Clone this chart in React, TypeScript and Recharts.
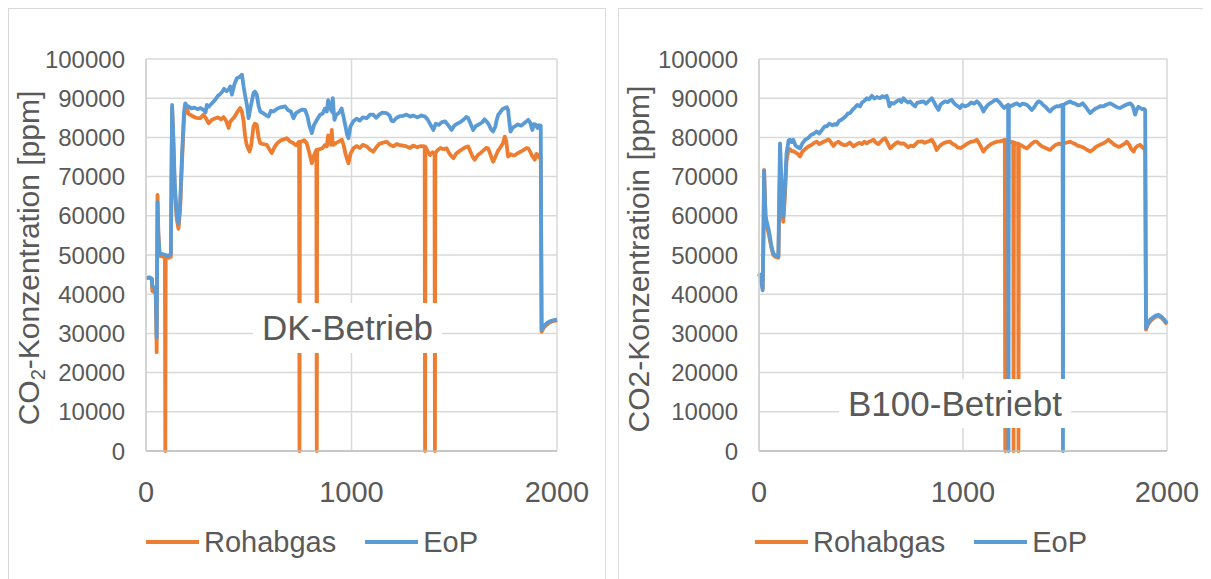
import React from 'react'
import { LineChart, Line, XAxis, YAxis, CartesianGrid } from 'recharts'

type Pt = [number, number]

const xTicks = [0, 1000, 2000]
const yTicks = [0, 10000, 20000, 30000, 40000, 50000, 60000, 70000, 80000, 90000, 100000]
const seriesNames = ['Rohabgas', 'EoP']
const seriesColors = ['#ED7D31', '#5B9BD5']

// DK-Betrieb, Rohabgas [x, ppm]
const dkRohabgas: Pt[] = [
  [0, 44000], [15, 44200], [28, 43900], [31, 40800], [40, 40500], [47, 40500], [52, 25200], [56, 65300], [60, 56000],
  [66, 49800], [80, 49600], [92, 49500], [94, 0], [96, 49500], [110, 49300], [121, 49500], [127, 87500], [133, 79000],
  [140, 66500], [150, 59000], [158, 56700], [166, 61500], [175, 73500], [185, 85000], [191, 87500], [199, 87500],
  [207, 86000], [215, 85800], [230, 85300], [245, 85000], [264, 84900], [280, 85800], [290, 85000], [305, 83600],
  [321, 84500], [335, 84800], [350, 85100], [365, 84600], [377, 85200], [390, 84200], [402, 82400], [410, 84000],
  [418, 84500], [430, 85200], [445, 86500], [458, 87500], [467, 86500], [475, 84100], [482, 80500], [488, 78500],
  [496, 77300], [504, 76400], [512, 78000], [523, 82800], [530, 83500], [539, 83200], [548, 80000], [556, 78500],
  [570, 78300], [588, 78100], [600, 77000], [612, 76000], [625, 77500], [640, 78600], [655, 79200], [670, 79500],
  [685, 79800], [700, 79000], [718, 78500], [730, 78000], [745, 78900], [747, 0], [749, 78800], [760, 79000],
  [770, 79300], [782, 78500], [795, 76000], [807, 73400], [818, 75500], [829, 76800], [831, 0], [833, 76800],
  [845, 77000], [860, 77300], [870, 78000], [880, 77700], [886, 80500], [893, 78800], [900, 78100], [904, 81900],
  [908, 78500], [912, 78100], [925, 78600], [940, 79000], [953, 79400], [962, 78000], [970, 76000], [978, 74500],
  [985, 73400], [995, 75800], [1009, 77200], [1025, 77800], [1040, 77300], [1055, 78100], [1074, 77700], [1090, 76900],
  [1106, 76400], [1120, 77400], [1135, 78300], [1150, 78600], [1171, 78900], [1185, 78200], [1204, 77700], [1220, 78300],
  [1235, 78000], [1250, 77900], [1268, 77700], [1285, 77300], [1300, 77900], [1320, 77500], [1340, 77800], [1356, 77700],
  [1358, 0], [1360, 77600], [1370, 76500], [1382, 75500], [1394, 76200], [1404, 76000], [1406, 0], [1408, 76000],
  [1420, 76800], [1433, 77300], [1448, 77000], [1463, 77200], [1475, 76000], [1486, 75200], [1496, 74700], [1510, 75900],
  [1525, 76500], [1540, 77000], [1555, 77500], [1568, 77700], [1580, 76200], [1590, 75000], [1600, 74300], [1615, 75500],
  [1630, 76100], [1645, 76800], [1655, 77300], [1665, 77200], [1675, 75800], [1689, 73800], [1700, 75000], [1712, 76500],
  [1725, 77500], [1737, 78500], [1746, 80200], [1753, 79000], [1762, 75100], [1775, 75700], [1785, 75400], [1795, 75500],
  [1810, 76000], [1825, 76400], [1840, 76900], [1852, 77300], [1860, 77200], [1870, 76300], [1880, 75200], [1892, 74300],
  [1900, 75800], [1908, 75500], [1915, 74800], [1921, 75200], [1925, 30400], [1935, 31400], [1950, 32200], [1965, 32800],
  [1980, 33100], [2000, 33300],
]

// DK-Betrieb, EoP
const dkEoP: Pt[] = [
  [0, 44100], [15, 44300], [28, 44000], [31, 42000], [40, 41800], [47, 41500], [52, 29000], [56, 63500], [60, 55000],
  [66, 50500], [80, 50200], [95, 50000], [110, 49800], [121, 50300], [127, 88300], [133, 80000], [140, 68000],
  [150, 60000], [158, 58000], [166, 63000], [175, 75000], [185, 86500], [191, 88700], [200, 88000], [207, 87900],
  [220, 87400], [235, 87600], [250, 87200], [265, 87500], [280, 87000], [290, 86400], [296, 88300], [305, 87800],
  [321, 88700], [335, 89500], [350, 90600], [360, 91000], [369, 91500], [380, 92400], [392, 91800], [402, 92200],
  [410, 93000], [418, 90900], [430, 93500], [442, 95100], [455, 95400], [467, 96000], [475, 93000], [483, 90500],
  [492, 88000], [499, 84900], [510, 88000], [523, 91300], [530, 91700], [539, 90900], [548, 88000], [556, 86600],
  [570, 86200], [583, 85700], [596, 85300], [608, 86800], [620, 86600], [635, 87200], [650, 87600], [665, 87800],
  [677, 87900], [690, 87000], [705, 86600], [718, 84900], [730, 86200], [745, 86700], [760, 87100], [774, 87000],
  [785, 85500], [795, 83000], [807, 81100], [818, 83200], [832, 84500], [847, 85800], [860, 86100], [870, 87300],
  [880, 86600], [886, 89500], [893, 88700], [900, 87000], [906, 86500], [909, 90000], [913, 87000], [917, 84500],
  [925, 85700], [935, 86100], [944, 86600], [952, 87400], [961, 85300], [970, 83000], [978, 80800], [985, 79800],
  [995, 82800], [1009, 84100], [1025, 84800], [1040, 84300], [1055, 85100], [1074, 84900], [1090, 85800], [1106, 85800],
  [1120, 85000], [1135, 85800], [1150, 86300], [1171, 86200], [1185, 85600], [1195, 84200], [1204, 84100], [1220, 85000],
  [1235, 85400], [1250, 85500], [1268, 85800], [1285, 85300], [1300, 85600], [1320, 85100], [1340, 85600], [1358, 85300],
  [1370, 84600], [1385, 83200], [1398, 81900], [1410, 83500], [1425, 83200], [1440, 83900], [1455, 84100], [1465, 83500],
  [1475, 82800], [1487, 81900], [1500, 83000], [1515, 83500], [1530, 83900], [1545, 84500], [1558, 85200], [1568, 84900],
  [1580, 83400], [1592, 81900], [1605, 82900], [1620, 83300], [1635, 83800], [1647, 84600], [1657, 84100], [1668, 83300],
  [1680, 82000], [1689, 81500], [1700, 82800], [1707, 84500], [1714, 85800], [1725, 86500], [1735, 87200], [1746, 87500],
  [1756, 87700], [1762, 87000], [1768, 84000], [1774, 81500], [1785, 82500], [1795, 82800], [1810, 83300], [1825, 83000],
  [1840, 83600], [1852, 84100], [1860, 84500], [1870, 83700], [1880, 81900], [1888, 83400], [1897, 83200], [1905, 82400],
  [1913, 83100], [1921, 83000], [1925, 30900], [1935, 31800], [1950, 32600], [1965, 33100], [1980, 33300], [2000, 33500],
]

// B100-Betrieb, Rohabgas
const b100Rohabgas: Pt[] = [
  [0, 45000], [8, 44000], [18, 41500], [22, 56000], [25, 71700], [28, 66500], [32, 59500], [38, 57500], [45, 56000],
  [51, 54500], [60, 52000], [70, 50000], [82, 49500], [95, 49300], [99, 60000], [103, 72000], [108, 68000], [113, 61000],
  [119, 58500], [126, 64000], [135, 74000], [145, 77000], [152, 77000], [160, 76500], [168, 76500], [178, 76200],
  [190, 75800], [201, 75100], [212, 76300], [226, 77000], [240, 77600], [255, 78000], [270, 78600], [283, 78900],
  [295, 78300], [310, 78700], [322, 79000], [340, 79500], [352, 78800], [365, 77800], [378, 78600], [390, 78900],
  [402, 78400], [418, 78000], [430, 78100], [445, 78700], [463, 77700], [478, 78200], [492, 78600], [505, 78300],
  [516, 78900], [528, 78500], [540, 78900], [550, 79100], [561, 79400], [572, 78700], [585, 78300], [598, 79000],
  [608, 79500], [618, 79800], [630, 78600], [643, 77200], [655, 77800], [668, 78400], [680, 78800], [694, 78400],
  [708, 78500], [720, 78000], [732, 77500], [745, 77900], [757, 77700], [770, 78400], [780, 78900], [790, 78900],
  [800, 79000], [812, 78600], [825, 78900], [837, 79100], [847, 79400], [858, 78500], [871, 76800], [882, 77600],
  [895, 78200], [908, 78600], [920, 78800], [937, 78900], [950, 78300], [962, 78000], [975, 77400], [988, 77300],
  [1002, 77700], [1015, 78200], [1028, 78600], [1040, 78900], [1053, 79000], [1068, 79400], [1080, 78400], [1090, 77400],
  [1100, 76400], [1112, 77200], [1125, 77800], [1138, 78300], [1150, 78600], [1166, 78900], [1180, 79000], [1195, 79200],
  [1205, 79400], [1207, 0], [1209, 79300], [1220, 78600], [1232, 78900], [1246, 78800], [1248, 0], [1250, 78700],
  [1260, 78500], [1270, 78400], [1272, 0], [1274, 78300], [1288, 77900], [1300, 77500], [1313, 77200], [1325, 77800],
  [1337, 78400], [1350, 78900], [1362, 78900], [1375, 78200], [1390, 77600], [1405, 77300], [1418, 77000], [1427, 76800],
  [1440, 77500], [1455, 78100], [1470, 78400], [1485, 78200], [1497, 78500], [1510, 78700], [1525, 78900], [1537, 78600],
  [1550, 78300], [1562, 77900], [1575, 77700], [1588, 77500], [1600, 77100], [1612, 76700], [1624, 76400], [1638, 76900],
  [1650, 77500], [1663, 77900], [1675, 78200], [1689, 78500], [1700, 78900], [1713, 79400], [1725, 78900], [1738, 78300],
  [1750, 77900], [1762, 77600], [1771, 77700], [1783, 78100], [1795, 78500], [1803, 78900], [1815, 78100], [1825, 77000],
  [1836, 76400], [1845, 77300], [1855, 77800], [1869, 78100], [1877, 77600], [1885, 77200], [1893, 77500], [1897, 31000],
  [1908, 32400], [1920, 33200], [1935, 33900], [1947, 34300], [1959, 34400], [1972, 34000], [1985, 33300], [2000, 32300],
]

// B100-Betrieb, EoP
const b100EoP: Pt[] = [
  [0, 45300], [8, 44500], [18, 41000], [22, 55000], [25, 71500], [28, 66000], [32, 60000], [38, 58500], [45, 57000],
  [51, 55500], [60, 52500], [70, 50400], [82, 49800], [95, 49600], [99, 65000], [103, 78500], [108, 72000], [113, 63000],
  [119, 59800], [126, 66000], [135, 76000], [145, 79200], [152, 79400], [160, 78800], [168, 79400], [178, 78000],
  [190, 77500], [201, 77200], [212, 78400], [226, 79400], [240, 79800], [255, 80600], [270, 81000], [283, 81500],
  [295, 81000], [310, 82000], [322, 82800], [332, 82800], [345, 83500], [360, 83100], [372, 83400], [381, 83200],
  [392, 84200], [404, 84500], [414, 84900], [425, 85400], [436, 86100], [446, 86200], [458, 87000], [470, 87600],
  [482, 88300], [495, 87900], [505, 88900], [516, 89300], [528, 90000], [540, 89700], [553, 90600], [565, 89900],
  [578, 90300], [593, 90000], [605, 90500], [616, 90200], [626, 90600], [632, 89700], [639, 87900], [648, 88800],
  [660, 88600], [675, 89200], [688, 89600], [698, 89000], [708, 90000], [720, 89300], [730, 88900], [741, 89200],
  [752, 88500], [765, 87900], [775, 88800], [790, 89000], [806, 89200], [818, 88600], [830, 89200], [847, 90000],
  [858, 89000], [870, 87800], [880, 87000], [890, 88400], [900, 88800], [912, 89200], [925, 89000], [935, 89400],
  [945, 89600], [955, 88800], [965, 88300], [975, 88000], [986, 87500], [996, 88300], [1010, 87900], [1027, 88300],
  [1040, 88900], [1055, 88600], [1068, 89200], [1080, 88600], [1090, 87800], [1100, 86600], [1110, 87500], [1122, 88300],
  [1133, 88700], [1145, 89100], [1155, 89500], [1166, 89600], [1178, 89000], [1190, 88200], [1202, 87500], [1212, 88000],
  [1221, 88300], [1223, 0], [1225, 88200], [1236, 88000], [1250, 88400], [1264, 88700], [1278, 88100], [1290, 88600],
  [1302, 88500], [1313, 88300], [1325, 87700], [1337, 87000], [1348, 87600], [1358, 88500], [1370, 89200], [1382, 88900],
  [1394, 88200], [1405, 87800], [1416, 87100], [1427, 86600], [1438, 87300], [1450, 87700], [1460, 88000], [1468, 87900],
  [1478, 88100], [1488, 88300], [1490, 0], [1492, 88300], [1505, 88700], [1515, 88900], [1525, 89200], [1537, 88800],
  [1550, 88600], [1562, 88200], [1575, 88300], [1587, 88700], [1600, 87900], [1612, 87000], [1624, 86200], [1636, 86800],
  [1648, 87300], [1660, 87600], [1675, 88000], [1689, 87900], [1700, 88300], [1712, 88500], [1722, 88700], [1735, 88300],
  [1748, 87900], [1760, 87600], [1771, 87500], [1783, 87900], [1795, 88200], [1808, 88500], [1820, 88700], [1832, 88000],
  [1844, 85800], [1852, 87200], [1860, 87800], [1869, 87500], [1878, 87200], [1886, 87300], [1893, 87000], [1897, 31300],
  [1908, 32800], [1920, 33600], [1935, 34200], [1947, 34600], [1959, 34700], [1972, 34300], [1985, 33600], [2000, 32600],
]

const toRows = (pts: Pt[]) => pts.map(([x, y]) => ({ x, y }))

const textColor = '#595959'
const gridColor = '#d9d9d9'
const font = '"Liberation Sans", Arial, sans-serif'

interface PanelProps {
  left: number
  width: number
  yAxisWidth: number
  rightMargin: number
  title: React.ReactNode
  titleY: number
  note: string
  noteBox: { left: number; top: number; width: number; height: number }
  legendLeft: number
  series: Pt[][]
}

function Panel({ left, width, yAxisWidth, rightMargin, title, titleY, note, noteBox, legendLeft, series }: PanelProps) {
  return (
    <>
      <div style={{ position: 'absolute', left, top: 0, width, height: 640, border: '1px solid ' + gridColor, boxSizing: 'border-box' }} />
      <div style={{ position: 'absolute', left, top: 0 }}>
        <LineChart width={width} height={571} margin={{ top: 51, right: rightMargin, left: 0, bottom: 68 }}>
          <CartesianGrid stroke={gridColor} strokeWidth={1.5} horizontalValues={yTicks} verticalValues={xTicks} />
          <XAxis
            dataKey="x"
            type="number"
            domain={[0, 2000]}
            ticks={xTicks}
            height={60}
            tickSize={0}
            tickMargin={30}
            tick={{ fill: textColor, fontSize: 29 }}
            axisLine={{ stroke: '#bfbfbf', strokeWidth: 1.5 }}
          />
          <YAxis
            type="number"
            domain={[0, 100000]}
            ticks={yTicks}
            width={yAxisWidth}
            tickSize={0}
            tickMargin={21}
            tick={{ fill: textColor, fontSize: 24 }}
            axisLine={{ stroke: '#d0d0d0', strokeWidth: 1.5 }}
            label={{
              content: () => (
                <text transform={`translate(31,${titleY}) rotate(-90)`} textAnchor="middle" fill={textColor} fontSize={30} fontFamily={font}>
                  {title}
                </text>
              ),
            }}
          />
          {series.map((pts, i) => (
            <Line
              key={seriesNames[i]}
              data={toRows(pts)}
              dataKey="y"
              name={seriesNames[i]}
              type="linear"
              stroke={seriesColors[i]}
              strokeWidth={3.8}
              strokeLinejoin="round"
              dot={false}
              activeDot={false}
              isAnimationActive={false}
            />
          ))}
        </LineChart>
      </div>
      <div
        style={{
          position: 'absolute',
          ...noteBox,
          background: '#fff',
          color: textColor,
          fontSize: 35,
          lineHeight: noteBox.height + 'px',
          textAlign: 'center',
          whiteSpace: 'nowrap',
        }}
      >
        {note}
      </div>
      <div style={{ position: 'absolute', left: legendLeft, top: 514, height: 40, display: 'flex', alignItems: 'center', color: textColor, fontSize: 29 }}>
        {seriesNames.map((name, i) => (
          <div key={name} style={{ display: 'flex', alignItems: 'center', marginRight: i === 0 ? 29 : 0 }}>
            <span style={{ display: 'inline-block', width: 53, height: 3.5, background: seriesColors[i], marginRight: 5 }} />
            <span>{name}</span>
          </div>
        ))}
      </div>
    </>
  )
}

export default function App() {
  return (
    <div style={{ position: 'relative', width: 1203, height: 571, overflow: 'hidden', fontFamily: font, background: '#fff' }}>
      <Panel
        left={0}
        width={598}
        yAxisWidth={138}
        rightMargin={49}
        title={
          <>
            CO<tspan dy={6} fontSize={20}>2</tspan>
            <tspan dy={-6}>-Konzentration [ppm]</tspan>
          </>
        }
        titleY={250}
        note="DK-Betrieb"
        noteBox={{ left: 245, top: 295, width: 189, height: 50 }}
        legendLeft={138}
        series={[dkRohabgas, dkEoP]}
      />
      <Panel
        left={610}
        width={593}
        yAxisWidth={141}
        rightMargin={44}
        title="CO2-Konzentratioin [ppm]"
        titleY={251}
        note="B100-Betriebt"
        noteBox={{ left: 831, top: 371, width: 232, height: 49 }}
        legendLeft={747}
        series={[b100Rohabgas, b100EoP]}
      />
    </div>
  )
}
